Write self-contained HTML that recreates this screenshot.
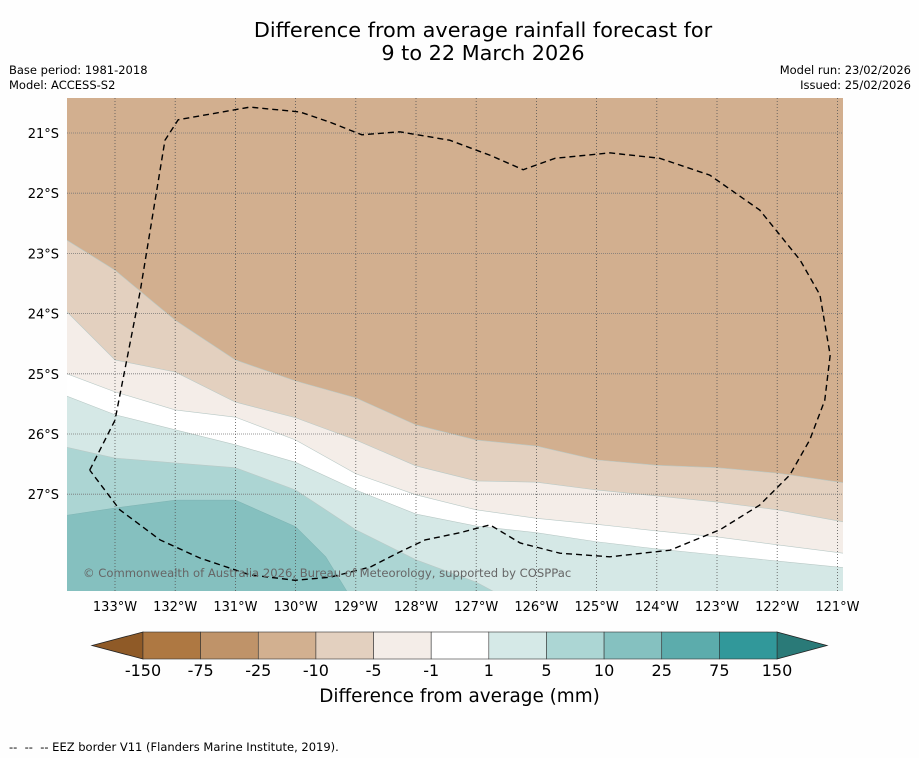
<!DOCTYPE html>
<html><head><meta charset="utf-8"><style>
body{margin:0;background:#fefefe;font-family:"DejaVu Sans","Liberation Sans",sans-serif;}
#wrap{position:relative;width:919px;height:758px;overflow:hidden;}
.t{position:absolute;white-space:nowrap;color:#000;}
</style></head><body>
<div id="wrap">
<div class="t" style="left:0;width:966px;text-align:center;top:19px;font-size:20.8px;line-height:23px;">Difference from average rainfall forecast for<br>9 to 22 March 2026</div>
<div class="t" style="left:9px;top:63px;font-size:11.5px;line-height:15px;">Base period: 1981-2018<br>Model: ACCESS-S2</div>
<div class="t" style="right:8px;top:63px;font-size:11.5px;line-height:15px;text-align:right;">Model run: 23/02/2026<br>Issued: 25/02/2026</div>
<svg id="map" width="919" height="758" style="position:absolute;left:0;top:0"></svg>
<div class="t" style="left:0;width:919px;text-align:center;top:686px;font-size:18.4px;">Difference from average (mm)</div>
<div class="t" style="left:9px;top:740px;font-size:11.5px;">--&nbsp; --&nbsp; -- EEZ border V11 (Flanders Marine Institute, 2019).</div>
</div>
<script>
const lons=[-133.8,-133,-132,-131,-130,-129,-128,-127,-126,-125,-124,-123,-122,-120.9];
const bA=[-22.78,-23.28,-24.11,-24.77,-25.12,-25.40,-25.85,-26.10,-26.20,-26.43,-26.52,-26.56,-26.65,-26.81];
const bB=[-23.97,-24.77,-24.97,-25.47,-25.73,-26.10,-26.53,-26.78,-26.80,-26.93,-27.03,-27.13,-27.26,-27.46];
const bC=[-25.00,-25.30,-25.60,-25.72,-26.10,-26.66,-27.01,-27.26,-27.40,-27.50,-27.61,-27.71,-27.84,-27.98];
const bD=[-25.37,-25.68,-25.93,-26.18,-26.47,-26.93,-27.33,-27.53,-27.64,-27.79,-27.91,-28.01,-28.11,-28.22];
const bE=[-26.22,-26.40,-26.48,-26.56,-26.93,-27.59,-28.09,-28.46,-29.0,-29.3,-29.3,-29.3,-29.3,-29.3];
const fLons=[-133.8,-133,-132,-131,-130,-129.5,-129.15,-128.5,-120.9];
const bF=[-27.35,-27.23,-27.10,-27.10,-27.54,-28.04,-28.61,-29.0,-29.0];
const bandColors=['#d2af8f','#e3d0bf','#f4ede8','#ffffff','#d5e8e6','#acd5d3','#85c0bf'];
const eezLon=[-133.42,-133,-132.58,-132.17,-131.95,-130.76,-129.93,-129.43,-128.90,-128.27,-127.44,-126.77,-126.22,-125.69,-124.78,-123.95,-123.12,-122.29,-121.62,-121.29,-121.12,-121.21,-121.46,-121.79,-122.29,-122.95,-123.78,-124.78,-125.61,-126.27,-126.77,-127.27,-127.85,-128.27,-128.76,-129.43,-130.01,-130.76,-131.59,-132.25,-132.92,-133.42];
const eezLat=[-26.60,-25.77,-23.62,-21.12,-20.78,-20.57,-20.65,-20.82,-21.03,-20.98,-21.12,-21.37,-21.61,-21.42,-21.33,-21.42,-21.70,-22.28,-23.11,-23.69,-24.69,-25.44,-26.10,-26.68,-27.18,-27.59,-27.93,-28.04,-27.98,-27.81,-27.51,-27.64,-27.76,-27.96,-28.21,-28.38,-28.43,-28.34,-28.06,-27.76,-27.26,-26.60];
const lonTicks=[-133,-132,-131,-130,-129,-128,-127,-126,-125,-124,-123,-122,-121];
const latTicks=[-21,-22,-23,-24,-25,-26,-27];
const cbLabels=['-150','-75','-25','-10','-5','-1','1','5','10','25','75','150'];
const cbColors=['#ae7842','#bf9369','#d2b090','#e3d0bf','#f4ede8','#ffffff','#d5e9e7','#acd6d4','#85c1c0','#5cacac','#31989a'];

const NS='http://www.w3.org/2000/svg';
const svg=document.getElementById('map');
const L=67,R=843,T=98,B=591;
const X=lon=>115+(lon+133)*60.2;
const Y=lat=>133+(-21-lat)*60.2;
function mk(tag,attrs,parent){const e=document.createElementNS(NS,tag);for(const k in attrs)e.setAttribute(k,attrs[k]);(parent||svg).appendChild(e);return e;}
const defs=mk('defs',{});
const cp=mk('clipPath',{id:'clip'},defs);mk('rect',{x:L,y:T,width:R-L,height:B-T},cp);
const g=mk('g',{'clip-path':'url(#clip)'});
const bg=mk('rect',{x:L,y:T,width:R-L,height:B-T,fill:bandColors[0]},g);


const bounds=[[lons,bA],[lons,bB],[lons,bC],[lons,bD],[lons,bE],[fLons,bF]];
const bandNames=['band-minus-10-to-minus-5','band-minus-5-to-minus-1','band-minus-1-to-1','band-1-to-5','band-5-to-10','band-10-to-25'];
bounds.forEach((b,i)=>{
  let d='M'+X(b[0][0]-0.5)+','+Y(b[1][0]);
  b[0].forEach((lo,j)=>{d+=' L'+X(lo)+','+Y(b[1][j]);});
  d+=' L'+X(b[0][b[0].length-1]+0.5)+','+Y(b[1][b[1].length-1])+' L'+(R+10)+','+(B+40)+' L'+(L-10)+','+(B+40)+'Z';
  const p=mk('path',{d:d,fill:bandColors[i+1],stroke:i===5?'#7fb5b4':'#b9c9c6','stroke-width':0.6},g);
  
  
});
lonTicks.forEach(lo=>{const l=mk('line',{x1:X(lo),x2:X(lo),y1:T,y2:B,stroke:'#555','stroke-width':0.8,'stroke-dasharray':'1,2'},g);

});
latTicks.forEach(la=>{const l=mk('line',{x1:L,x2:R,y1:Y(la),y2:Y(la),stroke:'#777','stroke-width':0.8,'stroke-dasharray':'1,1'},g);

});
let ed='';eezLon.forEach((lo,i)=>{ed+=(i?' L':'M')+X(lo)+','+Y(eezLat[i]);});
const ez=mk('path',{d:ed,fill:'none',stroke:'#000','stroke-width':1.4,'stroke-dasharray':'6,4'},g);


const ct=mk('text',{x:83,y:577,'font-size':11.6,fill:'#666','font-family':'DejaVu Sans, Liberation Sans, sans-serif'},g);
ct.textContent='© Commonwealth of Australia 2026, Bureau of Meteorology, supported by COSPPac';


lonTicks.forEach(lo=>{const t=mk('text',{x:X(lo),y:611,'text-anchor':'middle','font-size':13,'font-family':'DejaVu Sans, Liberation Sans, sans-serif'});t.textContent=Math.abs(lo)+'°W';

});
latTicks.forEach(la=>{const t=mk('text',{x:59,y:Y(la)+5,'text-anchor':'end','font-size':13,'font-family':'DejaVu Sans, Liberation Sans, sans-serif'});t.textContent=Math.abs(la)+'°S';

});
const cx0=143,cx1=777,cy0=632,cy1=659,sw=(cx1-cx0)/cbColors.length;
const la=mk('polygon',{points:`92,645.5 ${cx0},${cy0} ${cx0},${cy1}`,fill:'#8f5a27',stroke:'#222','stroke-width':0.8});


const ra=mk('polygon',{points:`827,645.5 ${cx1},${cy0} ${cx1},${cy1}`,fill:'#2a7a78',stroke:'#222','stroke-width':0.8});


cbColors.forEach((c,i)=>{const r=mk('rect',{x:cx0+i*sw,y:cy0,width:sw,height:cy1-cy0,fill:c,stroke:'#333','stroke-width':0.6});

});
cbLabels.forEach((s,i)=>{const t=mk('text',{x:cx0+i*sw,y:676,'text-anchor':'middle','font-size':16,'font-family':'DejaVu Sans, Liberation Sans, sans-serif'});t.textContent=s;

});
</script>
</body></html>
